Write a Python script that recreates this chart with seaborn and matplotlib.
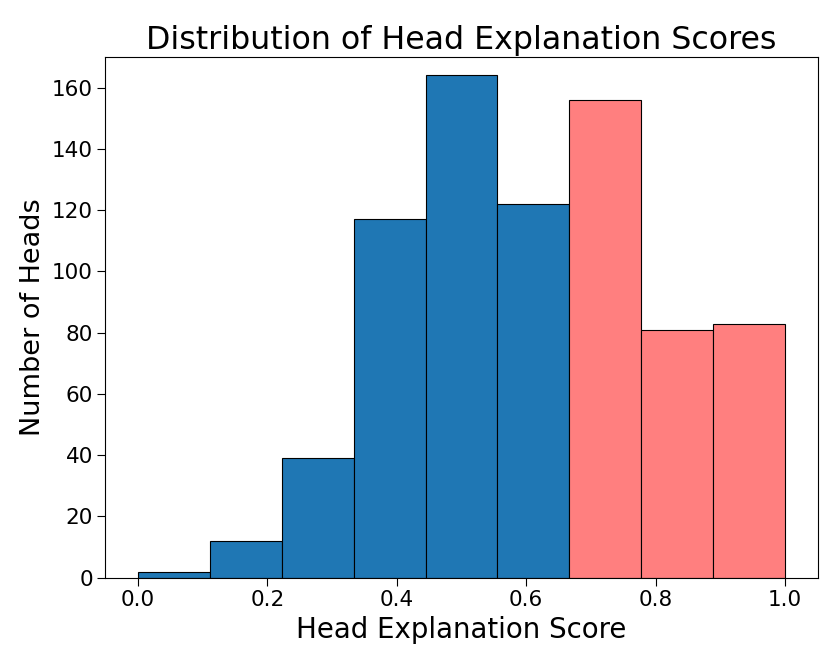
import numpy as np
import pandas as pd
import matplotlib
matplotlib.use('Agg')
import matplotlib.pyplot as plt
import seaborn as sns

# Histogram data (9 equal bins between 0 and 1)
n_bins = 9
bin_counts = [2, 12, 39, 117, 164, 122, 156, 81, 83]
bin_centers = (np.arange(n_bins) + 0.5) / n_bins
high_threshold = 6  # bars from this index on are highlighted

df = pd.DataFrame({'score': bin_centers, 'count': bin_counts})

sns.set_style('ticks', {'text.color': 'black', 'axes.labelcolor': 'black',
                        'xtick.color': 'black', 'ytick.color': 'black',
                        'axes.edgecolor': 'black'})
plt.rcParams['font.family'] = ['DejaVu Sans']

fig, ax = plt.subplots(figsize=(8.3, 6.64), dpi=100)
fig.subplots_adjust(left=0.127, right=0.985, top=0.914, bottom=0.13)

sns.histplot(data=df, x='score', weights='count', bins=n_bins, binrange=(0, 1),
             ax=ax, color='#1f77b4', alpha=1, edgecolor='black', linewidth=0.8)

for i, patch in enumerate(ax.patches):
    if i >= high_threshold:
        patch.set_facecolor('#ff7f7f')

ax.set_ylim(0, 170)
ax.set_xlim(-0.05, 1.05)
ax.set_title('Distribution of Head Explanation Scores', fontsize=22.8)
ax.set_xlabel('Head Explanation Score', fontsize=19.9)
ax.set_ylabel('Number of Heads', fontsize=19.5)
ax.tick_params(labelsize=15.5, colors='black', length=5.5)
for side in ['top', 'right']:
    ax.spines[side].set_visible(True)

fig.savefig('out.png', dpi=100)
